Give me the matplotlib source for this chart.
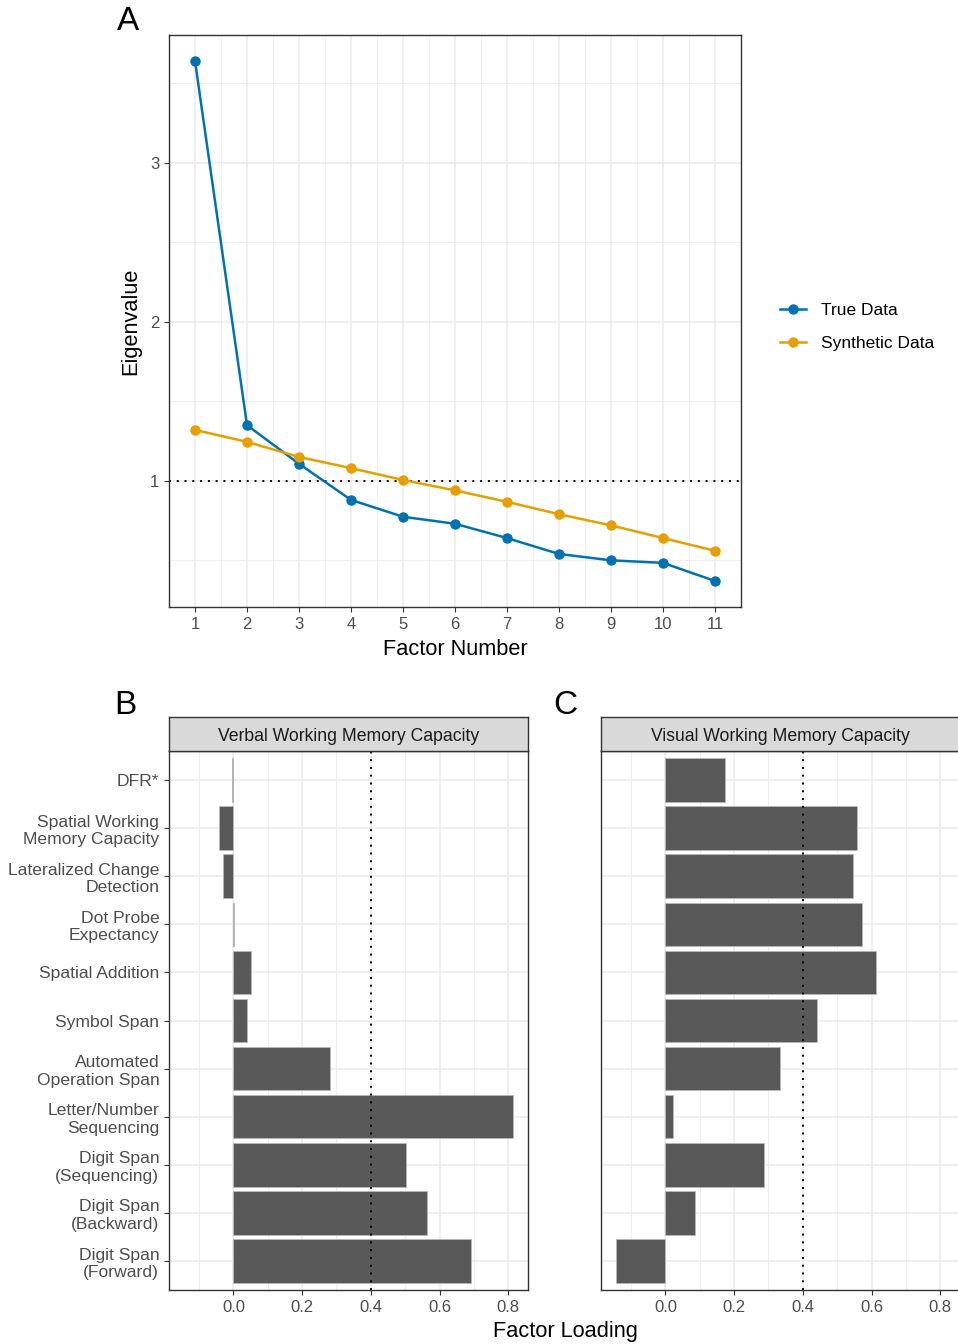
import matplotlib
matplotlib.use("Agg")
import matplotlib.pyplot as plt
import numpy as np

plt.rcParams['font.family'] = ['Liberation Sans', 'DejaVu Sans']

# ---- Data ----
factor_number = [1, 2, 3, 4, 5, 6, 7, 8, 9, 10, 11]
true_eigen = [3.64, 1.35, 1.107, 0.88, 0.774, 0.73, 0.64, 0.54, 0.50, 0.484, 0.37]
synthetic_eigen = [1.32, 1.245, 1.15, 1.08, 1.005, 0.94, 0.868, 0.79, 0.72, 0.64, 0.56]

tasks = ["DFR*", "Spatial Working\nMemory Capacity", "Lateralized Change\nDetection",
         "Dot Probe\nExpectancy", "Spatial Addition", "Symbol Span",
         "Automated\nOperation Span", "Letter/Number\nSequencing",
         "Digit Span\n(Sequencing)", "Digit Span\n(Backward)", "Digit Span\n(Forward)"]
verbal_loading = [-0.004, -0.043, -0.029, 0.001, 0.050, 0.041, 0.281, 0.813, 0.503, 0.564, 0.693]
visual_loading = [0.173, 0.558, 0.546, 0.571, 0.613, 0.442, 0.333, 0.022, 0.288, 0.086, -0.144]
facet_titles = ["Verbal Working Memory Capacity", "Visual Working Memory Capacity"]

BLUE = "#0072B2"
ORANGE = "#E69F00"
GRID = "#EBEBEB"
BORDER = "#333333"
TICKCOL = "#4D4D4D"

W, H = 958, 1344
fig = plt.figure(figsize=(W / 100, H / 100), dpi=100)

def fr(x0, y0, x1, y1):
    return [x0 / W, 1 - y1 / H, (x1 - x0) / W, (y1 - y0) / H]

def style_axes(ax):
    ax.set_facecolor("white")
    for s in ax.spines.values():
        s.set_color(BORDER)
        s.set_linewidth(1.0)
    ax.tick_params(colors=BORDER, labelcolor=TICKCOL, length=3.5, width=0.8,
                   labelsize=12)
    ax.tick_params(which="minor", length=0)
    ax.set_axisbelow(True)

# ---- Panel A ----
axA = fig.add_axes(fr(169, 35, 741, 607))
style_axes(axA)
axA.set_xlim(0.5, 11.5)
axA.set_ylim(0.2065, 3.8035)
axA.set_xticks(factor_number)
axA.set_xticks(np.arange(1.5, 11, 1), minor=True)
axA.set_yticks([1, 2, 3])
axA.set_yticks([0.5, 1.5, 2.5, 3.5], minor=True)
axA.grid(True, which="major", color=GRID, lw=1.1)
axA.grid(True, which="minor", color=GRID, lw=0.6)
axA.axhline(1, color="black", ls=(0, (1, 3)), lw=1.4, zorder=2)
axA.plot(factor_number, true_eigen, color=BLUE, lw=1.8, marker="o", ms=6.5,
         label="True Data", zorder=3)
axA.plot(factor_number, synthetic_eigen, color=ORANGE, lw=1.8, marker="o", ms=6.5,
         label="Synthetic Data", zorder=3)
axA.set_xlabel("Factor Number", fontsize=15.7, labelpad=5)
axA.set_ylabel("Eigenvalue", fontsize=15.7, labelpad=6)
leg = axA.legend(loc="center left", bbox_to_anchor=(1.04, 0.49), frameon=False,
                 fontsize=12.5, handlelength=1.5, labelspacing=1.05, handletextpad=0.9)
fig.text(128 / W, 1 - 22 / H, "A", fontsize=24, ha="center", va="center")

# ---- Panels B and C ----
ypos = np.arange(len(tasks))
panels = [(169, 528, verbal_loading, facet_titles[0]),
          (601, 960, visual_loading, facet_titles[1])]
for i, (x0, x1, vals, title) in enumerate(panels):
    ax = fig.add_axes(fr(x0, 751, x1, 1290))
    style_axes(ax)
    ax.set_xlim(-0.1875, 0.8575)
    ax.set_ylim(len(tasks) - 1 + 0.6, -0.6)
    ax.set_xticks([0.0, 0.2, 0.4, 0.6, 0.8])
    ax.set_xticklabels(["0.0", "0.2", "0.4", "0.6", "0.8"])
    ax.set_xticks([-0.1, 0.1, 0.3, 0.5, 0.7], minor=True)
    ax.set_yticks(ypos)
    ax.grid(True, which="major", color=GRID, lw=1.1)
    ax.grid(True, which="minor", axis="x", color=GRID, lw=0.6)
    ax.barh(ypos, vals, height=0.9, color="#595959", edgecolor="#B8B8B8",
            linewidth=0.6, zorder=2)
    ax.axvline(0.4, color="black", ls=(0, (1, 3)), lw=1.4, zorder=3)
    if i == 0:
        ax.set_yticklabels(tasks, fontsize=12.6, linespacing=1.2)
    else:
        ax.set_yticklabels([])
        ax.tick_params(axis="y", length=0)
    # strip
    sx = fig.add_axes(fr(x0, 717, x1, 751))
    sx.set_facecolor("#D9D9D9")
    sx.set_xticks([]); sx.set_yticks([])
    for s in sx.spines.values():
        s.set_color(BORDER); s.set_linewidth(1.0)
    sx.text(0.5, 0.42, title, ha="center", va="center", fontsize=12.7,
            color="#1A1A1A", transform=sx.transAxes)

fig.text(565 / W, 1 - 1331 / H, "Factor Loading", fontsize=15.7, ha="center", va="center")
fig.text(125 / W, 1 - 705 / H, "B", fontsize=24, ha="center", va="center")
fig.text(565 / W, 1 - 705 / H, "C", fontsize=24, ha="center", va="center")

fig.savefig("out.png", dpi=100)
